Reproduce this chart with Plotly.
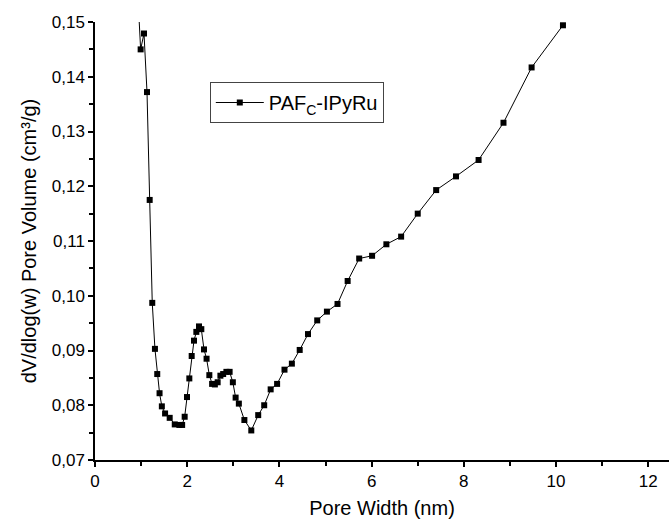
import plotly.graph_objects as go

pore_width_nm = [0.91, 0.99, 1.063, 1.128, 1.186, 1.242, 1.30, 1.35, 1.40, 1.45, 1.52, 1.62, 1.73, 1.83,
                 1.89, 1.945, 1.996, 2.046, 2.097, 2.147, 2.198, 2.256, 2.306, 2.364, 2.42, 2.48, 2.54,
                 2.60, 2.66, 2.72, 2.78, 2.85, 2.92, 2.99, 3.05, 3.12, 3.24, 3.39, 3.54, 3.67, 3.81,
                 3.95, 4.11, 4.27, 4.44, 4.62, 4.82, 5.03, 5.26, 5.48, 5.73, 6.01, 6.32, 6.64, 7.00,
                 7.40, 7.83, 8.32, 8.86, 9.47, 10.15]
pore_volume = [0.158, 0.1450, 0.1479, 0.1372, 0.1175, 0.0987, 0.0903, 0.0857, 0.0822, 0.0798, 0.0785,
               0.0777, 0.0765, 0.0764, 0.0764, 0.0779, 0.0815, 0.0849, 0.0890, 0.0918, 0.0934, 0.0944,
               0.0939, 0.0902, 0.0885, 0.0855, 0.0839, 0.0838, 0.0842, 0.0854, 0.0857, 0.0861, 0.0861,
               0.0842, 0.0814, 0.0803, 0.0773, 0.0754, 0.0782, 0.0800, 0.0829, 0.0839, 0.0865, 0.0876,
               0.0901, 0.0930, 0.0955, 0.0971, 0.0985, 0.1027, 0.1068, 0.1073, 0.1094, 0.1108, 0.1150,
               0.1193, 0.1218, 0.1248, 0.1316, 0.1417, 0.1494]
series_name = "PAF<sub>C</sub>-IPyRu"
x_title = "Pore Width (nm)"
y_title = "dV/dlog(w) Pore Volume (cm³/g)"

FONT = "Liberation Sans, Arial, sans-serif"

fig = go.Figure()
fig.add_trace(go.Scatter(
    x=pore_width_nm, y=pore_volume, mode="lines+markers", name=series_name,
    line=dict(color="black", width=1),
    marker=dict(symbol="square", size=6, color="black"),
    showlegend=True,
))

fig.update_layout(
    width=669, height=526,
    margin=dict(l=95, r=0, t=22, b=66),
    paper_bgcolor="white", plot_bgcolor="white",
    separators=",.",
    font=dict(family=FONT, color="black", size=17),
    showlegend=True,
    legend=dict(
        x=0.2, y=0.863, xanchor="left", yanchor="top",
        bgcolor="white", bordercolor="#444", borderwidth=1,
        font=dict(family=FONT, size=20, color="black"),
        itemwidth=48,
        tracegroupgap=0,
    ),
    xaxis=dict(
        range=[0, 12.45], dtick=2, tick0=0,
        showline=True, linecolor="black", linewidth=1.5,
        ticks="outside", ticklen=5, tickwidth=1.5, tickcolor="black",
        minor=dict(dtick=1, ticks="outside", ticklen=4, tickwidth=1.5, tickcolor="black"),
        showgrid=False, zeroline=False,
        tickfont=dict(size=17),
        title=dict(text=x_title, font=dict(size=20), standoff=11),
        mirror=False,
    ),
    yaxis=dict(
        range=[0.07, 0.15], dtick=0.01, tick0=0.07, tickformat=".2f",
        showline=True, linecolor="black", linewidth=1.5,
        ticks="outside", ticklen=5, tickwidth=1.5, tickcolor="black",
        minor=dict(dtick=0.005, ticks="outside", ticklen=4, tickwidth=1.5, tickcolor="black"),
        showgrid=False, zeroline=False,
        tickfont=dict(size=17),
        title=dict(text=y_title, font=dict(size=20), standoff=10),
        mirror=False,
    ),
)

fig.write_html("out.html")
